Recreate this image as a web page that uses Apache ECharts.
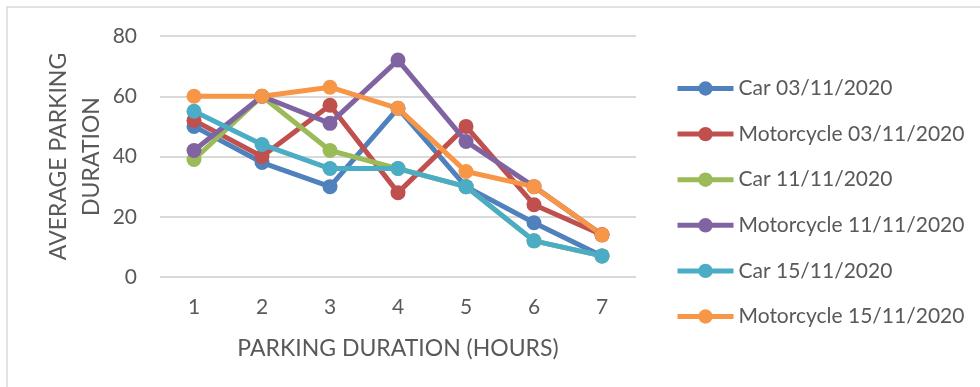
<!DOCTYPE html>
<html>
<head>
<meta charset="utf-8">
<script src="https://cdn.jsdelivr.net/npm/echarts@6/dist/echarts.min.js"></script>
<style>
  html, body { margin: 0; padding: 0; background: #ffffff; }
  #chart { width: 980px; height: 387px; }
</style>
</head>
<body>
<div id="chart"></div>
<script>
// Parking duration (hours) on the x axis
const hours = ['1', '2', '3', '4', '5', '6', '7'];

// Average parking duration per vehicle type and survey date
const car0311 = [50, 38, 30, 56, 30, 18, 7];
const moto0311 = [52, 40, 57, 28, 50, 24, 14];
const car1111 = [39, 60, 42, 36, 30, 12, 7];
const moto1111 = [42, 60, 51, 72, 45, 30, 14];
const car1511 = [55, 44, 36, 36, 30, 12, 7];
const moto1511 = [60, 60, 63, 56, 35, 30, 14];

const seriesNames = [
  'Car 03/11/2020',
  'Motorcycle 03/11/2020',
  'Car 11/11/2020',
  'Motorcycle 11/11/2020',
  'Car 15/11/2020',
  'Motorcycle 15/11/2020'
];
const seriesData = [car0311, moto0311, car1111, moto1111, car1511, moto1511];
const colors = ['#4f81bd', '#c0504d', '#9bbb59', '#8064a2', '#4bacc6', '#f79646'];

const FONT = 'Lato';
const TEXT = '#595959';
const LINE_W = 5;

const chart = echarts.init(document.getElementById('chart'), null, { renderer: 'canvas' });

chart.setOption({
  animation: false,
  backgroundColor: '#ffffff',
  color: colors,
  textStyle: { fontFamily: FONT, color: TEXT },
  grid: { left: 160, right: 344, top: 36, bottom: 110, containLabel: false },
  legend: {
    orient: 'vertical',
    left: 675,
    top: 78,
    padding: 0,
    itemWidth: 56,
    itemHeight: 18,
    itemGap: 24.6,
    lineStyle: { width: LINE_W },
    textStyle: { fontFamily: FONT, fontSize: 21, color: TEXT },
    data: seriesNames
  },
  xAxis: {
    type: 'category',
    data: hours,
    boundaryGap: true,
    axisLine: { show: false },
    axisTick: { show: false },
    axisLabel: { fontFamily: FONT, fontSize: 21, color: TEXT, margin: 20, lineHeight: 21 },
    name: 'PARKING DURATION (HOURS)',
    nameLocation: 'middle',
    nameGap: 60,
    nameTextStyle: { fontFamily: FONT, fontSize: 23, color: TEXT }
  },
  yAxis: {
    type: 'value',
    min: 0,
    max: 80,
    interval: 20,
    axisLine: { show: false },
    axisTick: { show: false },
    splitLine: { lineStyle: { color: '#d9d9d9', width: 2 } },
    axisLabel: { fontFamily: FONT, fontSize: 21, color: TEXT, margin: 23 },
    name: 'AVERAGE PARKING\nDURATION',
    nameLocation: 'middle',
    nameGap: 52,
    nameTextStyle: { fontFamily: FONT, fontSize: 23, color: TEXT, lineHeight: 33 }
  },
  graphic: [
    {
      type: 'rect',
      silent: true,
      shape: { x: 7, y: 7, width: 1100, height: 1100 },
      style: { fill: 'none', stroke: '#d9d9d9', lineWidth: 1.5 }
    }
  ],
  series: seriesNames.map((name, i) => ({
    name: name,
    type: 'line',
    data: seriesData[i],
    symbol: 'circle',
    symbolSize: 15,
    lineStyle: { width: LINE_W, color: colors[i] },
    itemStyle: { color: colors[i] },
    emphasis: { disabled: true }
  }))
});
</script>
</body>
</html>
